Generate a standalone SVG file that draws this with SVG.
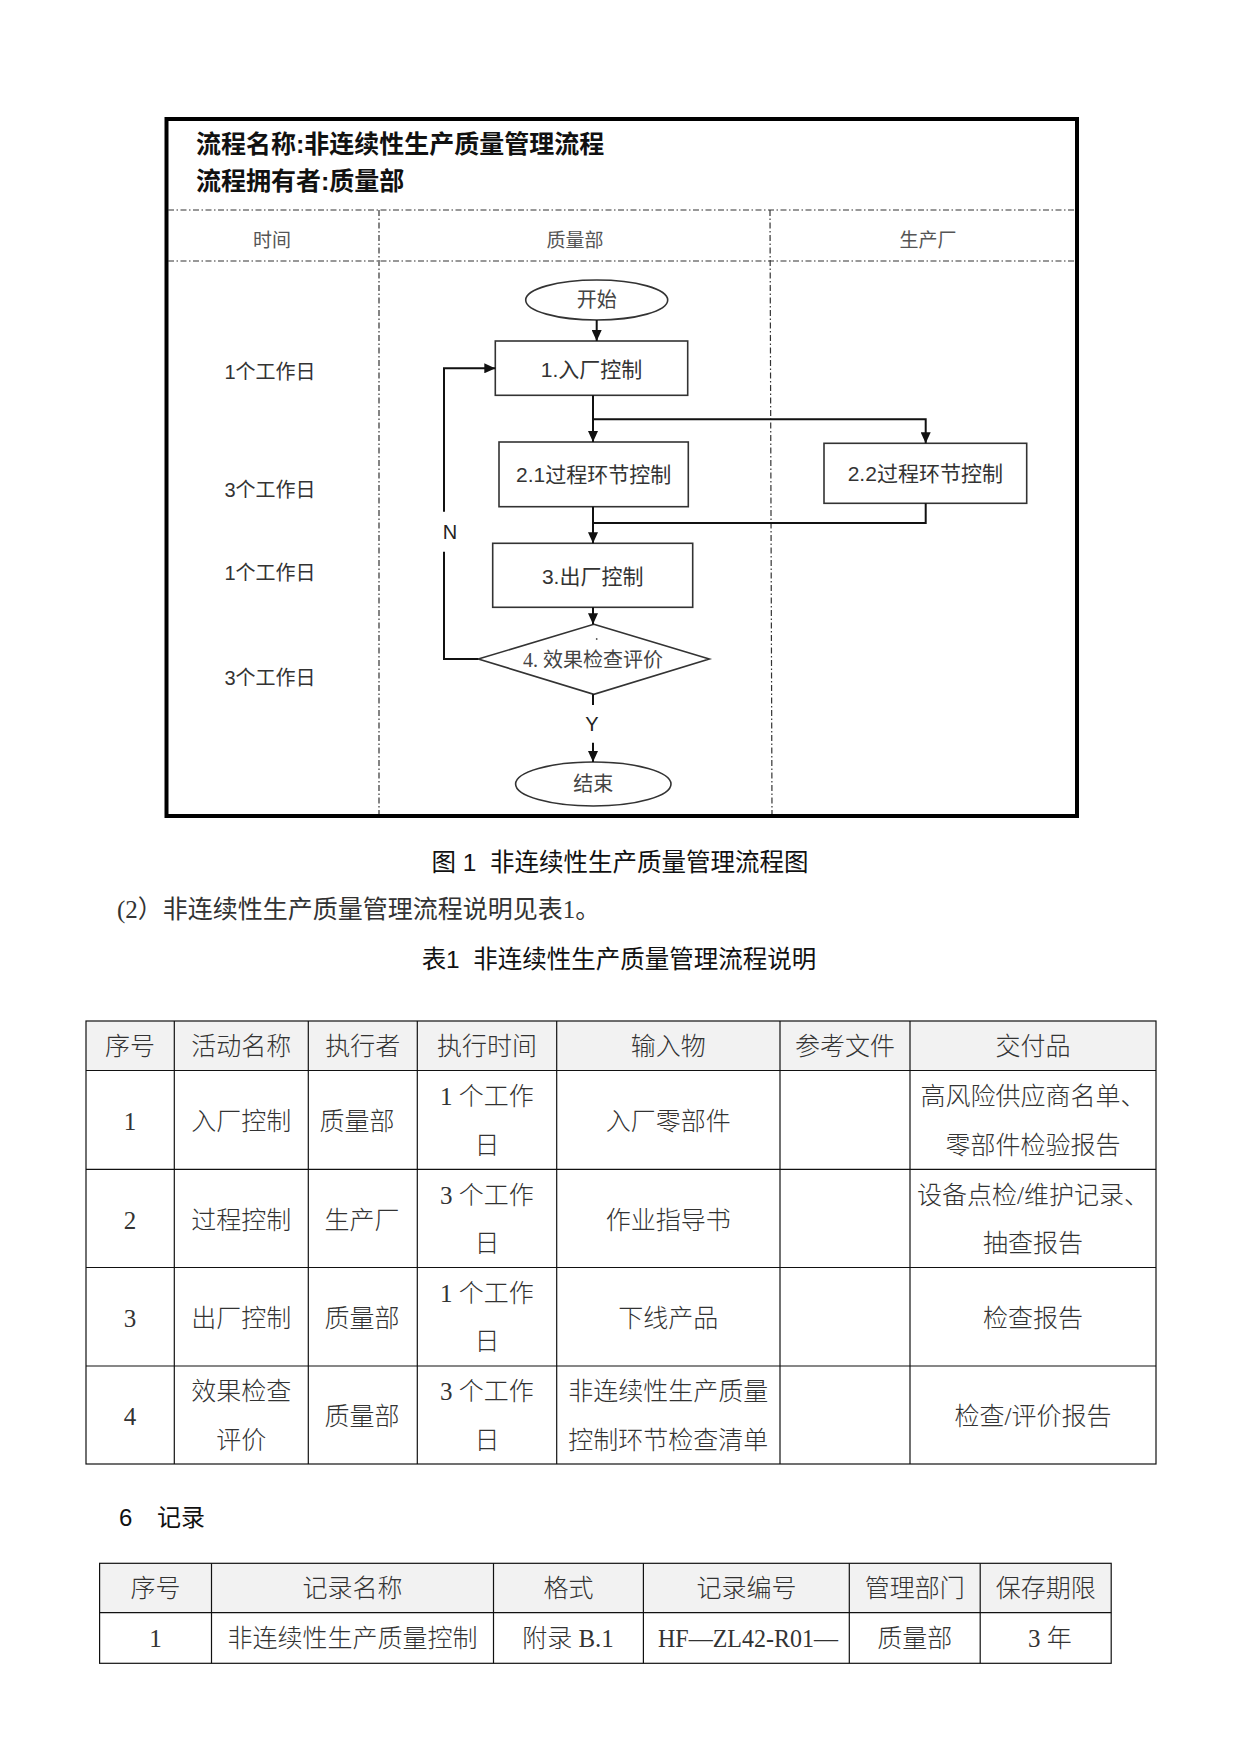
<svg xmlns="http://www.w3.org/2000/svg" width="1241" height="1754" viewBox="0 0 1241 1754">
<style>
.sans{font-family:"Liberation Sans","Noto Sans CJK SC",sans-serif}
.serif{font-family:"Liberation Serif","Noto Sans CJK SC",serif}
.title{font-size:25px;font-weight:700;fill:#111}
.lane{font-size:19px;fill:#555;text-anchor:middle;dominant-baseline:central}
.time{font-size:20px;fill:#333;text-anchor:middle;dominant-baseline:central}
.node{fill:#fff;stroke:#333;stroke-width:1.6}
.nt{font-size:21px;fill:#333;text-anchor:middle;dominant-baseline:central}
.ot{font-size:20px;fill:#444;text-anchor:middle;dominant-baseline:central}
.dd{fill:none;stroke:#333;stroke-width:1.2;stroke-dasharray:6 2.5 1.5 2.5}
.conn{fill:none;stroke:#111;stroke-width:2}
.lbl{font-size:20px;fill:#222;text-anchor:middle;dominant-baseline:central}
.cap{font-size:24px;fill:#111;dominant-baseline:central}
.para{font-size:25px;fill:#333;dominant-baseline:central}
.tl{stroke:#111;stroke-width:1.2;fill:none}
.tt{font-size:25px;font-weight:300;fill:#333;text-anchor:middle;dominant-baseline:central}
.hdr{fill:#f2f2f2}
</style>
<defs>
<marker id="arr" markerUnits="userSpaceOnUse" markerWidth="11" markerHeight="10" refX="11" refY="5" orient="auto">
<path d="M0,0 L11,5 L0,10 z" fill="#111"/>
</marker>
</defs>
<rect width="1241" height="1754" fill="#fff"/>

<!-- Flowchart frame -->
<g id="frame">
<rect x="166.5" y="119" width="910.5" height="697" fill="none" stroke="#000" stroke-width="4"/>
<text class="sans title" x="196" y="144" dominant-baseline="central">流程名称:非连续性生产质量管理流程</text>
<text class="sans title" x="196" y="180.5" dominant-baseline="central">流程拥有者:质量部</text>
<line class="dd" x1="168" y1="210" x2="1075" y2="210"/>
<line class="dd" x1="168" y1="261" x2="1075" y2="261"/>
<line class="dd" x1="379" y1="210" x2="379" y2="814"/>
<line class="dd" x1="770" y1="210" x2="772" y2="814"/>
<text class="sans lane" x="272" y="240">时间</text>
<text class="sans lane" x="575" y="240">质量部</text>
<text class="sans lane" x="928" y="240">生产厂</text>
<text class="sans time" x="270" y="372">1个工作日</text>
<text class="sans time" x="270" y="490">3个工作日</text>
<text class="sans time" x="270" y="573">1个工作日</text>
<text class="sans time" x="270" y="678">3个工作日</text>
</g>

<g id="start">
<ellipse class="node" cx="596.7" cy="300" rx="71" ry="20"/>
<text class="sans ot" x="596.7" y="300">开始</text>
</g>
<g id="n1">
<rect class="node" x="495.3" y="341" width="192.4" height="54.3"/>
<text class="sans nt" x="591.5" y="369">1.入厂控制</text>
</g>
<g id="n21">
<rect class="node" x="499" y="442" width="189.3" height="64.7"/>
<text class="sans nt" x="593.6" y="474">2.1过程环节控制</text>
</g>
<g id="n22">
<rect class="node" x="824" y="443.3" width="202.7" height="60"/>
<text class="sans nt" x="925.3" y="473.5">2.2过程环节控制</text>
</g>
<g id="n3">
<rect class="node" x="492.7" y="543.3" width="200" height="64"/>
<text class="sans nt" x="592.7" y="576">3.出厂控制</text>
</g>
<g id="n4">
<polygon class="node" points="593.8,624.3 709.3,659 593.8,694.3 478.3,659"/>
<circle cx="596.7" cy="639" r="0.9" fill="#555"/>
<text class="serif ot" x="593" y="660">4. 效果检查评价</text>
</g>
<g id="end">
<ellipse class="node" cx="593.3" cy="784" rx="77.7" ry="22"/>
<text class="sans ot" x="593.3" y="784">结束</text>
</g>

<g id="connectors">
<path class="conn" d="M596.7,320 V341" marker-end="url(#arr)"/>
<path class="conn" d="M593,395.3 V442" marker-end="url(#arr)"/>
<path class="conn" d="M593,419.3 H925.7 V443.3" marker-end="url(#arr)"/>
<path class="conn" d="M593,506.7 V543.3" marker-end="url(#arr)"/>
<path class="conn" d="M925.7,503.3 V523 H593"/>
<path class="conn" d="M593,607.3 V624.3" marker-end="url(#arr)"/>
<path class="conn" d="M593,694.3 V705"/>
<path class="conn" d="M593,742.7 V762" marker-end="url(#arr)"/>
<text class="sans lbl" x="592" y="724">Y</text>
<path class="conn" d="M478.3,659 H444 V551.7"/>
<path class="conn" d="M444,511.7 V368.3 H495.3" marker-end="url(#arr)"/>
<text class="sans lbl" x="450" y="532">N</text>
</g>

<!-- Captions -->
<text class="sans cap" x="620" y="862" text-anchor="middle" style="white-space:pre;font-size:24.5px">图 1  非连续性生产质量管理流程图</text>
<text class="serif para" x="117" y="909">(2）非连续性生产质量管理流程说明见表1。</text>
<text class="sans cap" x="619" y="959" text-anchor="middle" style="white-space:pre;font-size:24.5px">表1  非连续性生产质量管理流程说明</text>

<!-- Table 1 -->
<g id="table1">
<rect class="hdr" x="86" y="1021" width="1070" height="49.5"/>
<rect class="tl" x="86" y="1021" width="1070" height="443"/>
<line class="tl" x1="86" y1="1070.5" x2="1156" y2="1070.5"/>
<line class="tl" x1="86" y1="1169.3" x2="1156" y2="1169.3"/>
<line class="tl" x1="86" y1="1267.5" x2="1156" y2="1267.5"/>
<line class="tl" x1="86" y1="1366" x2="1156" y2="1366"/>
<line class="tl" x1="174.3" y1="1021" x2="174.3" y2="1464"/>
<line class="tl" x1="308.3" y1="1021" x2="308.3" y2="1464"/>
<line class="tl" x1="417.3" y1="1021" x2="417.3" y2="1464"/>
<line class="tl" x1="556.7" y1="1021" x2="556.7" y2="1464"/>
<line class="tl" x1="780" y1="1021" x2="780" y2="1464"/>
<line class="tl" x1="910" y1="1021" x2="910" y2="1464"/>
<g class="serif tt">
<text x="130" y="1046">序号</text>
<text x="241.3" y="1046">活动名称</text>
<text x="362.8" y="1046">执行者</text>
<text x="487" y="1046">执行时间</text>
<text x="668.3" y="1046">输入物</text>
<text x="845" y="1046">参考文件</text>
<text x="1033" y="1046">交付品</text>

<text x="130" y="1121.7">1</text>
<text x="241.3" y="1121.7">入厂控制</text>
<text x="357" y="1121.7">质量部</text>
<text x="487" y="1096.7">1 个工作</text>
<text x="487" y="1145">日</text>
<text x="668.3" y="1121.7">入厂零部件</text>
<text x="1033" y="1096.7">高风险供应商名单、</text>
<text x="1033" y="1145">零部件检验报告</text>

<text x="130" y="1220">2</text>
<text x="241.3" y="1220">过程控制</text>
<text x="362" y="1220">生产厂</text>
<text x="487" y="1195">3 个工作</text>
<text x="487" y="1243">日</text>
<text x="668.3" y="1220">作业指导书</text>
<text x="1033" y="1195">设备点检/维护记录、</text>
<text x="1033" y="1243">抽查报告</text>

<text x="130" y="1318">3</text>
<text x="241.3" y="1318">出厂控制</text>
<text x="362" y="1318">质量部</text>
<text x="487" y="1293">1 个工作</text>
<text x="487" y="1341.7">日</text>
<text x="668.3" y="1318">下线产品</text>
<text x="1033" y="1318">检查报告</text>

<text x="130" y="1416.7">4</text>
<text x="241.3" y="1391.7">效果检查</text>
<text x="241.3" y="1440.7">评价</text>
<text x="362" y="1416.7">质量部</text>
<text x="487" y="1391.7">3 个工作</text>
<text x="487" y="1440.7">日</text>
<text x="668.3" y="1391.7">非连续性生产质量</text>
<text x="668.3" y="1440.7">控制环节检查清单</text>
<text x="1033" y="1416.7">检查/评价报告</text>
</g>
</g>

<text class="sans cap" x="119" y="1517">6</text>
<text class="sans cap" x="157" y="1517">记录</text>

<!-- Table 2 -->
<g id="table2">
<rect class="hdr" x="99.6" y="1563.3" width="1011.6" height="49.4"/>
<rect class="tl" x="99.6" y="1563.3" width="1011.6" height="100"/>
<line class="tl" x1="99.6" y1="1612.7" x2="1111.2" y2="1612.7"/>
<line class="tl" x1="211.5" y1="1563.3" x2="211.5" y2="1663.3"/>
<line class="tl" x1="493.5" y1="1563.3" x2="493.5" y2="1663.3"/>
<line class="tl" x1="643.4" y1="1563.3" x2="643.4" y2="1663.3"/>
<line class="tl" x1="849.3" y1="1563.3" x2="849.3" y2="1663.3"/>
<line class="tl" x1="980.2" y1="1563.3" x2="980.2" y2="1663.3"/>
<g class="serif tt">
<text x="155.5" y="1588">序号</text>
<text x="352.5" y="1588">记录名称</text>
<text x="568.5" y="1588">格式</text>
<text x="746.4" y="1588">记录编号</text>
<text x="914.8" y="1588">管理部门</text>
<text x="1045.7" y="1588">保存期限</text>
<text x="155.5" y="1638">1</text>
<text x="352.5" y="1638">非连续性生产质量控制</text>
<text x="568" y="1638">附录 B.1</text>
<text x="748" y="1638" textLength="180" lengthAdjust="spacingAndGlyphs">HF—ZL42-R01—</text>
<text x="914.8" y="1638">质量部</text>
<text x="1050" y="1638">3 年</text>
</g>
</g>
</svg>
